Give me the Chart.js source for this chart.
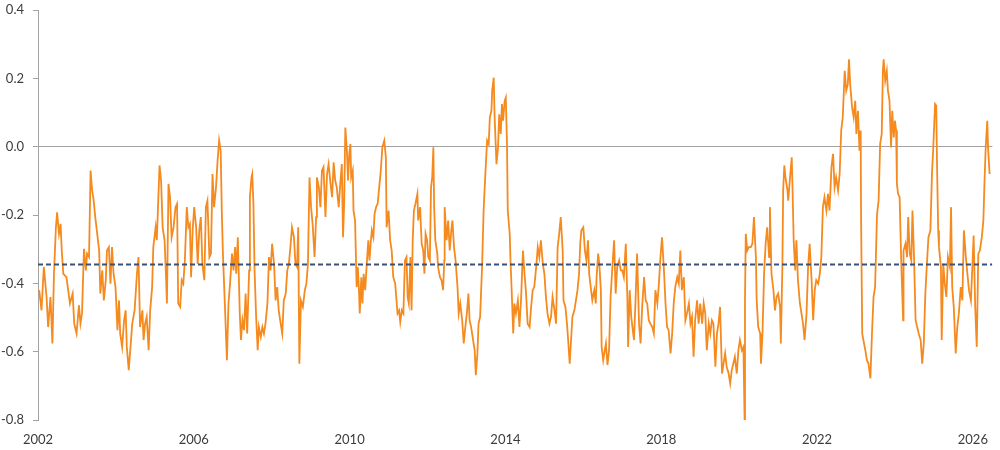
<!DOCTYPE html>
<html>
<head>
<meta charset="utf-8">
<script src="https://cdn.jsdelivr.net/npm/chart.js@4.4.1/dist/chart.umd.min.js"></script>
<style>
  html, body { margin: 0; padding: 0; background: #ffffff; }
  #wrap { width: 1000px; height: 450px; }
</style>
</head>
<body>
<div id="wrap"><canvas id="chart"></canvas></div>
<script>
// Dates as decimal years
const years = [
  2002.03, 2002.09, 2002.15, 2002.22, 2002.26, 2002.32, 2002.37, 2002.41, 2002.46, 2002.49, 2002.54, 2002.58, 2002.61, 2002.65, 2002.73, 2002.82, 2002.89, 2002.93, 2002.99,
  2003.05, 2003.09, 2003.13, 2003.18, 2003.23, 2003.26, 2003.31, 2003.35, 2003.39, 2003.43, 2003.47, 2003.53, 2003.57, 2003.60, 2003.65, 2003.69, 2003.74, 2003.77, 2003.82, 2003.86, 2003.90, 2003.94, 2003.99,
  2004.04, 2004.08, 2004.11, 2004.16, 2004.21, 2004.25, 2004.28, 2004.33,
  2004.42, 2004.48, 2004.54, 2004.58, 2004.62, 2004.68, 2004.71, 2004.75, 2004.79, 2004.84, 2004.88, 2004.93, 2004.96,
  2005.02, 2005.05, 2005.09, 2005.12, 2005.16, 2005.20, 2005.25, 2005.29, 2005.31, 2005.35, 2005.39, 2005.43, 2005.48, 2005.53, 2005.57, 2005.60, 2005.65, 2005.69, 2005.73, 2005.77, 2005.82, 2005.86, 2005.90, 2005.93, 2005.97,
  2006.01, 2006.06, 2006.10, 2006.14, 2006.18, 2006.22, 2006.27, 2006.31, 2006.35, 2006.40, 2006.44, 2006.48, 2006.52, 2006.57, 2006.61, 2006.65, 2006.69, 2006.72, 2006.75, 2006.80, 2006.85, 2006.89, 2006.93, 2006.98,
  2007.02, 2007.06, 2007.09, 2007.13,
  2007.18, 2007.21, 2007.25, 2007.29, 2007.33, 2007.37, 2007.42, 2007.44, 2007.48, 2007.50, 2007.53, 2007.56, 2007.60, 2007.64, 2007.67, 2007.72, 2007.76, 2007.80, 2007.84, 2007.89, 2007.93, 2007.97,
  2008.01, 2008.06, 2008.10, 2008.14, 2008.18, 2008.23, 2008.27, 2008.31, 2008.36, 2008.40, 2008.44, 2008.48, 2008.52, 2008.57, 2008.61, 2008.65, 2008.68, 2008.71, 2008.75, 2008.80, 2008.85, 2008.89, 2008.93, 2008.97,
  2009.01, 2009.05, 2009.10, 2009.14, 2009.16, 2009.21, 2009.25, 2009.29, 2009.33, 2009.38, 2009.42, 2009.46, 2009.51, 2009.55, 2009.59, 2009.63, 2009.67, 2009.72,
  2009.76, 2009.80, 2009.83, 2009.86, 2009.89, 2009.93, 2009.96, 2009.99,
  2010.02, 2010.04, 2010.08, 2010.10, 2010.14, 2010.18, 2010.21, 2010.24, 2010.26, 2010.30, 2010.33, 2010.36, 2010.40, 2010.44, 2010.48, 2010.51, 2010.54, 2010.57, 2010.61, 2010.64, 2010.68, 2010.72, 2010.76, 2010.80, 2010.84, 2010.89, 2010.93, 2010.95,
  2011.00, 2011.04, 2011.08, 2011.12, 2011.17, 2011.21, 2011.23, 2011.27, 2011.30, 2011.34, 2011.38, 2011.42, 2011.46, 2011.49, 2011.52, 2011.56, 2011.59, 2011.62, 2011.65, 2011.69, 2011.74, 2011.76, 2011.81, 2011.85, 2011.89, 2011.92, 2011.95, 2011.99,
  2012.02, 2012.06, 2012.09, 2012.12, 2012.15, 2012.17, 2012.20, 2012.25, 2012.27, 2012.32, 2012.36, 2012.40, 2012.43, 2012.44, 2012.49, 2012.53, 2012.57, 2012.61, 2012.64, 2012.68, 2012.72, 2012.77, 2012.80, 2012.84, 2012.89, 2012.93, 2012.97,
  2013.01, 2013.05, 2013.08, 2013.12, 2013.17, 2013.21, 2013.24, 2013.28, 2013.31, 2013.35, 2013.40, 2013.44, 2013.48, 2013.53, 2013.57, 2013.60, 2013.64, 2013.66, 2013.70, 2013.72, 2013.75, 2013.77, 2013.81, 2013.84, 2013.88, 2013.91, 2013.94, 2013.98,
  2014.01, 2014.04, 2014.06, 2014.11, 2014.13, 2014.16, 2014.20, 2014.23, 2014.27, 2014.32, 2014.36, 2014.40, 2014.45, 2014.49, 2014.53, 2014.57,
  2014.62, 2014.66, 2014.70, 2014.74, 2014.79, 2014.83, 2014.87, 2014.91, 2014.96,
  2015.00, 2015.04, 2015.08, 2015.13, 2015.17, 2015.21, 2015.26, 2015.30, 2015.34, 2015.38, 2015.42, 2015.47, 2015.49, 2015.54, 2015.58, 2015.61, 2015.65, 2015.68, 2015.72, 2015.77, 2015.81, 2015.85, 2015.89, 2015.92, 2015.95,
  2016.00, 2016.04, 2016.08, 2016.12, 2016.15, 2016.19, 2016.23, 2016.28, 2016.32, 2016.34, 2016.38, 2016.41, 2016.45, 2016.47, 2016.51, 2016.55, 2016.58, 2016.62, 2016.66, 2016.70, 2016.75, 2016.79, 2016.83, 2016.87, 2016.92, 2016.96,
  2017.00, 2017.04, 2017.09, 2017.13,
  2017.15, 2017.19, 2017.23, 2017.27, 2017.30, 2017.34, 2017.38, 2017.43, 2017.47, 2017.51, 2017.56, 2017.60, 2017.64, 2017.68, 2017.72, 2017.77, 2017.81, 2017.85, 2017.90, 2017.94, 2017.98,
  2018.02, 2018.07, 2018.11, 2018.15, 2018.19, 2018.24, 2018.28, 2018.32, 2018.36, 2018.41, 2018.45, 2018.49, 2018.53, 2018.58, 2018.62, 2018.66, 2018.71, 2018.75, 2018.79, 2018.83, 2018.87, 2018.92, 2018.96,
  2019.00, 2019.05, 2019.09, 2019.13, 2019.17, 2019.22, 2019.26, 2019.30, 2019.34, 2019.39, 2019.43, 2019.47, 2019.51, 2019.56, 2019.60, 2019.64, 2019.68, 2019.73, 2019.77, 2019.81, 2019.85, 2019.89,
  2019.94, 2019.98, 2020.02, 2020.07, 2020.11, 2020.14, 2020.15, 2020.17, 2020.21, 2020.25, 2020.30, 2020.34, 2020.38, 2020.43, 2020.45, 2020.49, 2020.54, 2020.56, 2020.60, 2020.64, 2020.68, 2020.72, 2020.77, 2020.79, 2020.83, 2020.88, 2020.92, 2020.96,
  2021.00, 2021.05, 2021.07, 2021.11, 2021.13, 2021.16, 2021.19, 2021.24, 2021.26, 2021.30, 2021.35, 2021.37, 2021.40, 2021.44, 2021.47, 2021.51, 2021.56, 2021.60, 2021.64, 2021.68, 2021.73, 2021.77, 2021.81, 2021.86, 2021.90, 2021.94, 2021.98,
  2022.03, 2022.07, 2022.11, 2022.15, 2022.19, 2022.24, 2022.28, 2022.32,
  2022.37, 2022.41, 2022.45, 2022.49, 2022.54, 2022.58, 2022.62, 2022.66, 2022.71, 2022.75, 2022.79, 2022.82, 2022.85, 2022.90, 2022.94, 2022.98,
  2023.01, 2023.05, 2023.09, 2023.12, 2023.13, 2023.16, 2023.19, 2023.24, 2023.28, 2023.32, 2023.37, 2023.41, 2023.45, 2023.49, 2023.54, 2023.58, 2023.62, 2023.66, 2023.69, 2023.71, 2023.75, 2023.79, 2023.82, 2023.86, 2023.90, 2023.93, 2023.97,
  2024.00, 2024.03, 2024.05, 2024.08, 2024.12, 2024.16, 2024.21,
  2024.22, 2024.27, 2024.31, 2024.34, 2024.38, 2024.42, 2024.45, 2024.49, 2024.53, 2024.57, 2024.61, 2024.66, 2024.70, 2024.74, 2024.78, 2024.82, 2024.86, 2024.91, 2024.95, 2024.98,
  2025.03, 2025.06, 2025.08, 2025.11, 2025.13, 2025.18, 2025.20, 2025.24, 2025.28, 2025.32, 2025.36, 2025.41, 2025.44, 2025.47, 2025.51, 2025.56, 2025.60, 2025.64, 2025.69, 2025.73, 2025.77, 2025.82, 2025.86, 2025.90, 2025.95, 2025.99,
  2026.02, 2026.06, 2026.10, 2026.14, 2026.18, 2026.23, 2026.27, 2026.30, 2026.33, 2026.37, 2026.39, 2026.43,
];

// Series values, same order as years
const values = [
  -0.420, -0.479, -0.352, -0.440, -0.528, -0.440, -0.576, -0.372, -0.236, -0.192, -0.255, -0.226, -0.304, -0.372, -0.382, -0.459, -0.430, -0.518, -0.547,
  -0.464, -0.518, -0.488, -0.299, -0.362, -0.313, -0.323, -0.070, -0.128, -0.158, -0.206, -0.265, -0.304, -0.430, -0.362, -0.450, -0.391, -0.304, -0.294, -0.401, -0.294, -0.372, -0.411,
  -0.537, -0.450, -0.547, -0.586, -0.508, -0.479, -0.586, -0.654,
  -0.518, -0.479, -0.372, -0.323, -0.528, -0.479, -0.566, -0.518, -0.498, -0.596, -0.479, -0.411, -0.294,
  -0.236, -0.274, -0.148, -0.055, -0.099, -0.236, -0.274, -0.391, -0.459, -0.109, -0.148, -0.265, -0.236, -0.177, -0.167, -0.459, -0.469, -0.391, -0.401, -0.333, -0.177, -0.236, -0.226, -0.382, -0.245,
  -0.177, -0.236, -0.343, -0.245, -0.206, -0.343, -0.391, -0.177, -0.158, -0.323, -0.313, -0.080, -0.177, -0.119, -0.041, 0.018, -0.012, -0.197, -0.323, -0.469, -0.625, -0.459, -0.401, -0.313,
  -0.362, -0.294, -0.372, -0.265,
  -0.488, -0.566, -0.508, -0.537, -0.430, -0.547, -0.362, -0.148, -0.090, -0.080, -0.167, -0.362, -0.498, -0.596, -0.528, -0.557, -0.528, -0.547, -0.518, -0.459, -0.323, -0.362,
  -0.284, -0.343, -0.450, -0.411, -0.479, -0.518, -0.547, -0.450, -0.430, -0.362, -0.343, -0.294, -0.236, -0.265, -0.343, -0.352, -0.236, -0.635, -0.450, -0.469, -0.420, -0.401, -0.343, -0.090,
  -0.177, -0.226, -0.323, -0.206, -0.090, -0.119, -0.177, -0.070, -0.060, -0.206, -0.080, -0.051, -0.109, -0.148, -0.046, -0.099, -0.119, -0.177,
  -0.109, -0.051, -0.265, -0.167, 0.056, -0.012, -0.099, -0.021,
  0.008, -0.090, -0.070, -0.187, -0.216, -0.411, -0.352, -0.420, -0.488, -0.382, -0.459, -0.372, -0.420, -0.343, -0.274, -0.333, -0.284, -0.245, -0.265, -0.197, -0.177, -0.167, -0.119, -0.070, -0.002, 0.018, -0.031, -0.236,
  -0.187, -0.274, -0.304, -0.382, -0.401, -0.459, -0.488, -0.479, -0.513, -0.479, -0.488, -0.333, -0.323, -0.440, -0.459, -0.323, -0.479, -0.274, -0.187, -0.167, -0.138, -0.216, -0.177, -0.284, -0.304, -0.372, -0.255, -0.274,
  -0.323, -0.333, -0.119, -0.090, -0.002, -0.177, -0.274, -0.313, -0.352, -0.382, -0.391, -0.420, -0.333, -0.177, -0.274, -0.216, -0.304, -0.245, -0.216, -0.294, -0.333, -0.411, -0.488, -0.459, -0.508, -0.576, -0.528,
  -0.488, -0.430, -0.508, -0.528, -0.566, -0.596, -0.669, -0.605, -0.518, -0.498, -0.352, -0.187, -0.090, 0.018, 0.008, 0.086, 0.105, 0.164, 0.202, 0.095, 0.008, -0.051, -0.002, 0.095, 0.037, 0.125, 0.076, 0.134,
  0.144, 0.008, -0.187, -0.255, -0.333, -0.420, -0.547, -0.459, -0.488, -0.450, -0.528, -0.450, -0.304, -0.372, -0.430, -0.518,
  -0.528, -0.469, -0.420, -0.411, -0.352, -0.294, -0.323, -0.274, -0.343,
  -0.372, -0.440, -0.488, -0.518, -0.498, -0.440, -0.479, -0.518, -0.294, -0.255, -0.206, -0.304, -0.450, -0.469, -0.518, -0.566, -0.635, -0.576, -0.498, -0.479, -0.450, -0.420, -0.372, -0.284, -0.245,
  -0.236, -0.304, -0.333, -0.274, -0.372, -0.411, -0.450, -0.420, -0.459, -0.382, -0.313, -0.343, -0.420, -0.586, -0.625, -0.596, -0.576, -0.639, -0.596, -0.440, -0.343, -0.274, -0.430, -0.352, -0.333, -0.362,
  -0.362, -0.382, -0.284, -0.440,
  -0.586, -0.420, -0.498, -0.537, -0.566, -0.450, -0.313, -0.518, -0.576, -0.469, -0.382, -0.450, -0.459, -0.508, -0.518, -0.528, -0.547, -0.420, -0.459, -0.401, -0.323,
  -0.265, -0.362, -0.459, -0.528, -0.537, -0.605, -0.547, -0.459, -0.411, -0.382, -0.401, -0.304, -0.420, -0.382, -0.508, -0.488, -0.459, -0.518, -0.498, -0.615, -0.508, -0.450, -0.518,
  -0.459, -0.518, -0.459, -0.488, -0.596, -0.518, -0.547, -0.508, -0.518, -0.644, -0.547, -0.518, -0.469, -0.664, -0.635, -0.605, -0.644, -0.664, -0.693, -0.654, -0.635, -0.615,
  -0.664, -0.596, -0.566, -0.596, -0.586, -0.800, -0.450, -0.255, -0.304, -0.294, -0.294, -0.284, -0.206, -0.323, -0.450, -0.528, -0.547, -0.635, -0.547, -0.372, -0.284, -0.236, -0.323, -0.177, -0.372, -0.420, -0.479, -0.440,
  -0.430, -0.469, -0.576, -0.352, -0.128, -0.055, -0.090, -0.128, -0.158, -0.099, -0.031, -0.119, -0.274, -0.362, -0.274, -0.391, -0.459, -0.488, -0.518, -0.566, -0.488, -0.352, -0.284, -0.391, -0.508, -0.420, -0.391,
  -0.401, -0.372, -0.323, -0.177, -0.148, -0.187, -0.138, -0.187,
  -0.060, -0.021, -0.119, -0.090, -0.128, -0.080, 0.047, 0.086, 0.222, 0.164, 0.183, 0.256, 0.183, 0.115, 0.086, 0.134,
  0.037, 0.105, -0.012, 0.047, -0.206, -0.547, -0.566, -0.596, -0.625, -0.635, -0.678, -0.547, -0.440, -0.411, -0.197, -0.158, 0.008, 0.037, 0.222, 0.256, 0.193, 0.222, 0.164, 0.134, -0.002, 0.105, 0.027,
  0.076, 0.047, -0.109, -0.138, -0.148, -0.333, -0.508,
  -0.304, -0.284, -0.323, -0.206, -0.313, -0.333, -0.187, -0.323, -0.508, -0.528, -0.547, -0.566, -0.635, -0.576, -0.430, -0.343, -0.265, -0.245, -0.080, -0.012,
  0.125, 0.120, -0.051, -0.245, -0.294, -0.352, -0.566, -0.343, -0.401, -0.440, -0.323, -0.352, -0.177, -0.411, -0.469, -0.605, -0.528, -0.488, -0.411, -0.450, -0.245, -0.323, -0.372, -0.420, -0.450, -0.343,
  -0.260, -0.469, -0.586, -0.313, -0.304, -0.265, -0.216, -0.099, -0.002, 0.076, -0.002, -0.080,
];

// Long-run average level (dashed line)
const avgLevel = -0.345;

// Axis ticks and bounds
const xTicks = [2002, 2006, 2010, 2014, 2018, 2022, 2026];
const yTicks = [-0.8, -0.6, -0.4, -0.2, 0, 0.2, 0.4];
const xMin = 2002;
const xMax = 2026.5;

const orange = "#f58a1f";
const navy = "#3a5275";
const axisGray = "#a3a3a3";
const labelColor = "#3c3c3c";

Chart.defaults.font.family = "Lato, 'Open Sans', sans-serif";
Chart.defaults.font.size = 13;

const points = years.map((x, i) => ({ x: x, y: values[i] }));

new Chart(document.getElementById("chart"), {
  type: "line",
  data: {
    datasets: [
      {
        // dashed average, drawn on top
        data: [{ x: xMin, y: avgLevel }, { x: xMax, y: avgLevel }],
        borderColor: navy,
        borderWidth: 2,
        borderDash: [5, 3],
        pointRadius: 0,
        order: 0,
      },
      {
        data: points,
        borderColor: orange,
        borderWidth: 1.8,
        pointRadius: 0,
        tension: 0,
        order: 1,
      },
    ],
  },
  options: {
    responsive: true,
    maintainAspectRatio: false,
    animation: false,
    layout: { autoPadding: false, padding: { top: 10, right: 3, left: 0, bottom: 0 } },
    plugins: {
      legend: { display: false },
      tooltip: { enabled: false },
    },
    scales: {
      x: {
        type: "linear",
        min: xMin,
        max: xMax,
        afterBuildTicks: (scale) => { scale.ticks = xTicks.map((v) => ({ value: v })); },
        afterFit: (scale) => { scale.height = 30; },
        grid: { display: false, drawTicks: false },
        border: { display: false },
        ticks: {
          color: labelColor,
          padding: 12,
          maxRotation: 0,
          autoSkip: false,
          callback: (v) => String(v),
        },
      },
      y: {
        min: -0.8,
        max: 0.4,
        afterBuildTicks: (scale) => { scale.ticks = yTicks.map((v) => ({ value: v })); },
        afterFit: (scale) => {
          scale.width = 38;
          // let the layout padding alone decide where the plot starts
          scale.paddingTop = 0;
          scale.paddingBottom = 0;
        },
        grid: {
          // only the zero line is shown
          color: (ctx) => (ctx.tick && ctx.tick.value === 0 ? axisGray : "rgba(0,0,0,0)"),
          tickColor: axisGray,
          tickLength: 5,
        },
        border: { display: true, color: axisGray, width: 1 },
        ticks: {
          color: labelColor,
          padding: 9,
          callback: (v) => v.toFixed(1),
        },
      },
    },
  },
});
</script>
</body>
</html>
